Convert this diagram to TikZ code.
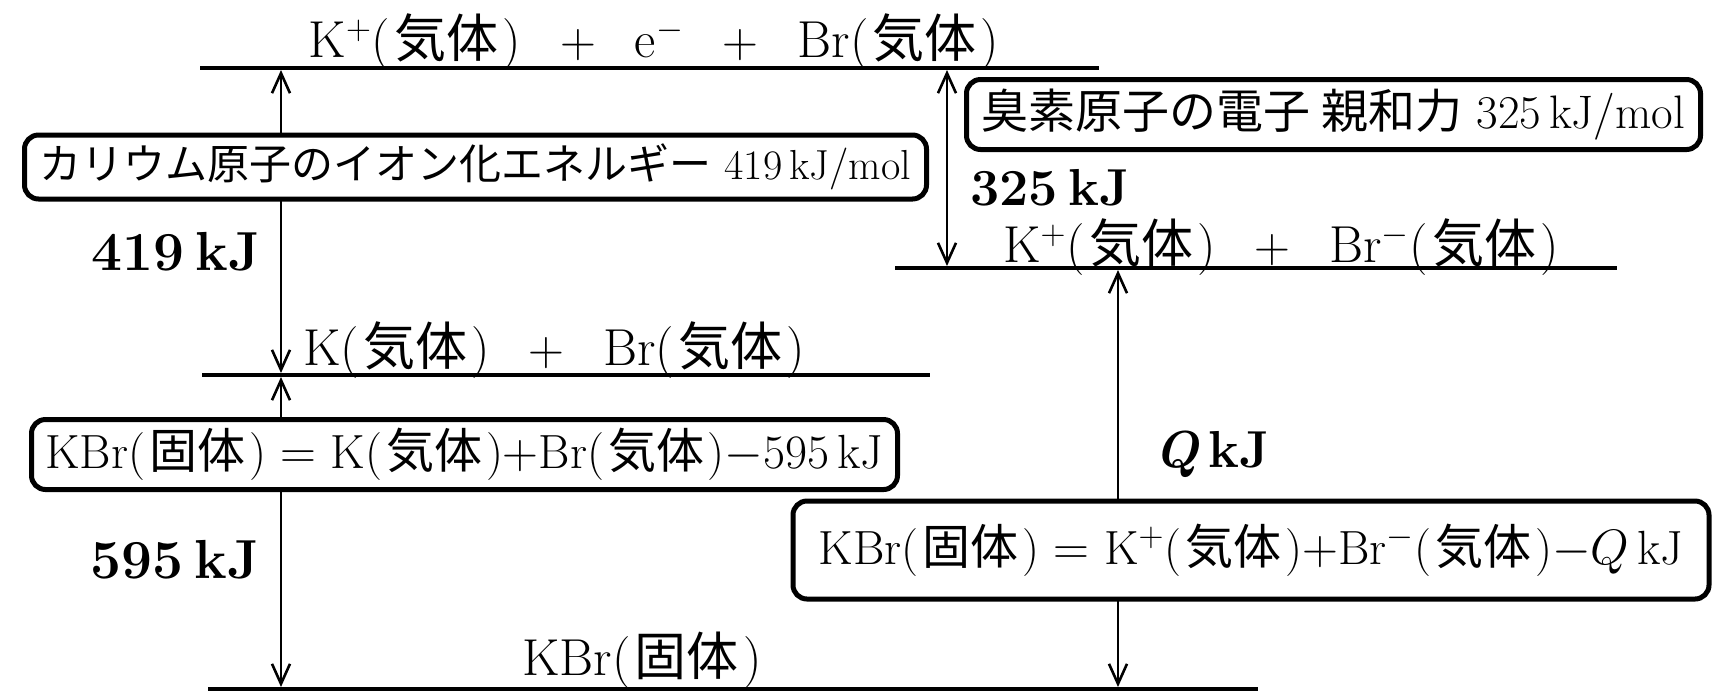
\documentclass[tikz,border=0pt]{standalone}
\usepackage{fontspec}
\newfontfamily\jpf{Noto Sans CJK JP}
\usetikzlibrary{arrows.meta}
\newcommand{\J}[1]{{\jpf #1}}
\newcommand{\pj}[1]{(\kern0.08em\J{#1}\kern0.08em)}
\newcommand{\gap}{\hspace{0.75em}}
\begin{document}
\begin{tikzpicture}[x=0.5pt,y=-0.5pt,
  lvl/.style={line width=2.4pt},
  en/.style={line width=1.3pt,arrows={Straight Barb[length=10pt,width=9pt]-Straight Barb[length=10pt,width=9pt]}},
  box/.style={draw,line width=2.5pt,rounded corners=7pt,fill=white,inner sep=0pt,align=center,font=\fontsize{24}{27}\selectfont},
  lab/.style={inner sep=0pt,font=\fontsize{26}{30}\selectfont},
  num/.style={inner sep=0pt,font=\fontsize{26}{30}\selectfont\bfseries}]
\useasboundingbox (0,0) rectangle (1715,693);
% level end points
\coordinate (topL) at (200,68);   \coordinate (topR) at (1099,68);
\coordinate (midL) at (202,375);  \coordinate (midR) at (930,375);
\coordinate (ionL) at (895,268);  \coordinate (ionR) at (1617,268);
\coordinate (botL) at (208,689);  \coordinate (botR) at (1258,689);
% arrow end points
\coordinate (a1t) at (281,70);   \coordinate (a1b) at (281,373);
\coordinate (a2t) at (281,377);  \coordinate (a2b) at (281,687);
\coordinate (a3t) at (947,70);   \coordinate (a3b) at (947,266);
\coordinate (a4t) at (1118,270); \coordinate (a4b) at (1118,687);
% arrows
\draw[en] (a1b) -- (a1t);
\draw[en] (a2b) -- (a2t);
\draw[en] (a3b) -- (a3t);
\draw[en] (a4b) -- (a4t);
% levels
\draw[lvl] (topL) -- (topR);
\draw[lvl] (midL) -- (midR);
\draw[lvl] (ionL) -- (ionR);
\draw[lvl] (botL) -- (botR);
% level labels
\node[lab] (Ltop) at (654,42) {K$^{+}$\pj{気体}\gap$+$\gap e$^{-}$\gap$+$\gap Br\pj{気体}};
\node[lab] (Lmid) at (554,350) {K\pj{気体}\gap$+$\gap Br\pj{気体}};
\node[lab] (Lion) at (1281,247) {K$^{+}$\pj{気体}\gap$+$\gap Br$^{-}$\pj{気体}};
\node[lab] (Lbot) at (642,660) {KBr\pj{固体}};
% energy values
\node[num,font=\fontsize{27.5}{30}\selectfont\bfseries] (n419) at (176,252) {419\kern0.2em kJ};
\node[num,font=\fontsize{27.5}{30}\selectfont\bfseries] (n595) at (175,560) {595\kern0.2em kJ};
\node[num] (n325) at (1050,188) {325\kern0.2em kJ};
\node[num] (nQ) at (1212,454) {\textit{Q}\,kJ};
% boxes
\node[box,minimum width=451pt,minimum height=32pt,font=\fontsize{21}{24}\selectfont] (b1) at (475.5,167) {\J{カリウム原子のイオン化エネルギー} 419\,kJ/mol};
\node[box,minimum width=433pt,minimum height=35pt] (b2) at (464.5,454.5) {KBr\pj{固体} $=$ K\pj{気体}$+$Br\pj{気体}$-$595\,kJ};
\node[box,minimum width=367pt,minimum height=35pt,font=\fontsize{23.5}{26}\selectfont] (b3) at (1333.5,114.5) {\J{臭素原子の電子 親和力} 325\,kJ/mol};
\node[box,minimum width=458pt,minimum height=49pt] (b4) at (1251,550) {KBr\pj{固体} $=$ K$^{+}$\pj{気体}$+$Br$^{-}$\pj{気体}$-Q$\,kJ};
\end{tikzpicture}
\end{document}
